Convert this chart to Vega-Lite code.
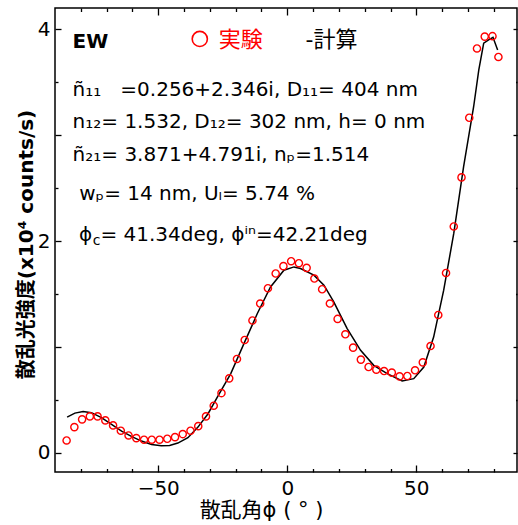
{
  "$schema": "https://vega.github.io/schema/vega-lite/v6.json",
  "width": 462,
  "height": 464,
  "autosize": {"type": "none"},
  "padding": {"left": 55, "top": 8, "right": 1, "bottom": 53},
  "background": "white",
  "config": {
    "view": {"stroke": "#000", "strokeWidth": 1.5},
    "axis": {
      "domain": false,
      "grid": false,
      "tickColor": "#000",
      "tickWidth": 1.3,
      "labelColor": "#000",
      "labelFont": "DejaVu Sans",
      "labelFontSize": 20,
      "titleFont": "DejaVu Sans, Noto Sans CJK JP",
      "titleFontSize": 21,
      "titleFontWeight": "normal",
      "titleColor": "#000"
    }
  },
  "datasets": {
    "obs": [
      {"x": -85.5, "y": 0.118}, {"x": -82.5, "y": 0.244}, {"x": -79.5, "y": 0.317}, {"x": -76.5, "y": 0.345},
      {"x": -73.5, "y": 0.345}, {"x": -70.5, "y": 0.307}, {"x": -67.5, "y": 0.26}, {"x": -64.5, "y": 0.21},
      {"x": -61.5, "y": 0.165}, {"x": -58.5, "y": 0.14}, {"x": -55.5, "y": 0.125}, {"x": -52.5, "y": 0.125},
      {"x": -49.5, "y": 0.125}, {"x": -46.5, "y": 0.134}, {"x": -43.5, "y": 0.149}, {"x": -40.5, "y": 0.178},
      {"x": -37.5, "y": 0.21}, {"x": -34.5, "y": 0.253}, {"x": -31.5, "y": 0.345}, {"x": -28.5, "y": 0.446},
      {"x": -25.5, "y": 0.565}, {"x": -22.5, "y": 0.704}, {"x": -19.5, "y": 0.887}, {"x": -16.5, "y": 1.066},
      {"x": -13.5, "y": 1.25}, {"x": -10.5, "y": 1.41}, {"x": -7.5, "y": 1.555}, {"x": -4.5, "y": 1.694},
      {"x": -1.5, "y": 1.763}, {"x": 1.5, "y": 1.81}, {"x": 4.5, "y": 1.791}, {"x": 7.5, "y": 1.747},
      {"x": 10.5, "y": 1.646}, {"x": 13.5, "y": 1.545}, {"x": 16.5, "y": 1.41}, {"x": 19.5, "y": 1.265},
      {"x": 22.5, "y": 1.12}, {"x": 25.5, "y": 0.994}, {"x": 28.5, "y": 0.881}, {"x": 31.5, "y": 0.811},
      {"x": 34.5, "y": 0.786}, {"x": 37.5, "y": 0.773}, {"x": 40.5, "y": 0.758}, {"x": 43.5, "y": 0.723},
      {"x": 46.5, "y": 0.726}, {"x": 49.5, "y": 0.78}, {"x": 52.5, "y": 0.855}, {"x": 55.5, "y": 1.009},
      {"x": 58.5, "y": 1.302}, {"x": 61.5, "y": 1.699}, {"x": 64.5, "y": 2.138}, {"x": 67.5, "y": 2.601},
      {"x": 70.5, "y": 3.164}, {"x": 73.5, "y": 3.818}, {"x": 76.5, "y": 3.93}, {"x": 79.5, "y": 3.934},
      {"x": 81.8, "y": 3.738}
    ],
    "calc": [
      {"x": -85.3, "y": 0.338}, {"x": -82.3, "y": 0.376}, {"x": -79.1, "y": 0.392}, {"x": -75.9, "y": 0.38},
      {"x": -72.0, "y": 0.333}, {"x": -68.1, "y": 0.269}, {"x": -64.2, "y": 0.206}, {"x": -60.4, "y": 0.156},
      {"x": -56.5, "y": 0.112}, {"x": -52.6, "y": 0.08}, {"x": -48.8, "y": 0.068}, {"x": -45.6, "y": 0.071},
      {"x": -42.4, "y": 0.093}, {"x": -38.5, "y": 0.144}, {"x": -34.6, "y": 0.244}, {"x": -30.7, "y": 0.37},
      {"x": -27.1, "y": 0.527}, {"x": -21.9, "y": 0.749}, {"x": -16.8, "y": 1.032}, {"x": -11.6, "y": 1.316},
      {"x": -6.5, "y": 1.567}, {"x": -1.3, "y": 1.725}, {"x": 2.6, "y": 1.756}, {"x": 5.1, "y": 1.741},
      {"x": 10.3, "y": 1.678}, {"x": 14.2, "y": 1.583}, {"x": 18.0, "y": 1.425}, {"x": 23.2, "y": 1.174},
      {"x": 28.4, "y": 0.969}, {"x": 33.5, "y": 0.827}, {"x": 38.7, "y": 0.749}, {"x": 44.5, "y": 0.679},
      {"x": 49.0, "y": 0.701}, {"x": 52.9, "y": 0.811}, {"x": 56.7, "y": 1.094}, {"x": 60.6, "y": 1.536},
      {"x": 64.5, "y": 2.072}, {"x": 68.3, "y": 2.701}, {"x": 72.2, "y": 3.268}, {"x": 74.2, "y": 3.615},
      {"x": 76.1, "y": 3.868}, {"x": 78.0, "y": 3.899}, {"x": 79.7, "y": 3.924}, {"x": 81.5, "y": 3.804}
    ],
    "notes": [
      {"x": -83.2, "y": 3.370, "t": "ñ₁₁\u00a0\u00a0 =0.256+2.346i, D₁₁= 404 nm", "s": 20, "c": "#000"},
      {"x": -83.2, "y": 3.064, "t": "n₁₂= 1.532, D₁₂= 302 nm, h= 0 nm", "s": 20, "c": "#000"},
      {"x": -83.2, "y": 2.755, "t": "ñ₂₁= 3.871+4.791i, nₚ=1.514", "s": 20, "c": "#000"},
      {"x": -80.6, "y": 2.387, "t": "wₚ= 14 nm, Uₗ= 5.74 %", "s": 20, "c": "#000"},
      {"x": -80.7, "y": 2.002, "t": "ϕ", "s": 20, "c": "#000"},
      {"x": -75.4, "y": 1.961, "t": "c", "s": 14, "c": "#000"},
      {"x": -72.4, "y": 2.002, "t": "= 41.34deg, ϕⁱⁿ=42.21deg", "s": 20, "c": "#000"},
      {"x": -26.6, "y": 3.833, "t": "実験", "s": 22, "c": "#ff0000"},
      {"x": 7.1, "y": 3.833, "t": "-計算", "s": 22, "c": "#000"}
    ],
    "bold": [
      {"x": -83.2, "y": 3.826, "t": "EW"}
    ],
    "legendpt": [
      {"x": -33.9, "y": 3.908}
    ]
  },
  "resolve": {"axis": {"x": "independent", "y": "independent"}},
  "layer": [
    {
      "data": {"name": "calc"},
      "mark": {"type": "line", "color": "#000", "strokeWidth": 1.5},
      "encoding": {
        "x": {
          "field": "x", "type": "quantitative",
          "scale": {"domain": [-90, 89], "nice": false, "zero": false},
          "axis": {
            "orient": "bottom",
            "values": [-80, -70, -60, -50, -40, -30, -20, -10, 0, 10, 20, 30, 40, 50, 60, 70, 80],
            "labelExpr": "datum.value % 50 === 0 ? datum.label : ''",
            "tickSize": {"condition": {"test": "datum.value % 50 === 0", "value": -7}, "value": -3.5},
            "labelPadding": 13,
            "title": "散乱角ϕ ( ° )",
            "titleX": 206,
            "titlePadding": 1
          }
        },
        "y": {
          "field": "y", "type": "quantitative",
          "scale": {"domain": [-0.18, 4.2], "nice": false, "zero": false},
          "axis": {
            "orient": "left",
            "values": [0, 0.5, 1, 1.5, 2, 2.5, 3, 3.5, 4],
            "labelExpr": "datum.value % 2 === 0 ? format(datum.value, 'd') : ''",
            "tickSize": {"condition": {"test": "datum.value % 1 === 0", "value": -6}, "value": -3},
            "labelPadding": 11,
            "title": "散乱光強度(x10⁴ counts/s)",
            "titleFontWeight": "bold",
            "titleFontSize": 20,
            "titleY": 236,
            "titlePadding": 1
          }
        }
      }
    },
    {
      "data": {"name": "obs"},
      "mark": {"type": "point", "shape": "circle", "filled": false, "color": "#ff0000", "strokeWidth": 1.4, "size": 52, "opacity": 1},
      "encoding": {
        "x": {
          "field": "x", "type": "quantitative",
          "scale": {"domain": [-90, 89], "nice": false, "zero": false},
          "axis": {
            "orient": "top",
            "values": [-80, -70, -60, -50, -40, -30, -20, -10, 0, 10, 20, 30, 40, 50, 60, 70, 80],
            "labels": false,
            "tickSize": {"condition": {"test": "datum.value % 50 === 0", "value": -7}, "value": -3.5},
            "title": null
          }
        },
        "y": {
          "field": "y", "type": "quantitative",
          "scale": {"domain": [-0.18, 4.2], "nice": false, "zero": false},
          "axis": {
            "orient": "right",
            "values": [0, 0.5, 1, 1.5, 2, 2.5, 3, 3.5, 4],
            "labels": false,
            "tickSize": {"condition": {"test": "datum.value % 1 === 0", "value": -4}, "value": -1.5},
            "title": null
          }
        }
      }
    },
    {
      "data": {"name": "notes"},
      "mark": {"type": "text", "align": "left", "baseline": "alphabetic", "font": "DejaVu Sans, Noto Sans CJK JP"},
      "encoding": {
        "x": {"field": "x", "type": "quantitative", "scale": {"domain": [-90, 89], "nice": false, "zero": false}, "axis": null},
        "y": {"field": "y", "type": "quantitative", "scale": {"domain": [-0.18, 4.2], "nice": false, "zero": false}, "axis": null},
        "text": {"field": "t"},
        "size": {"field": "s", "type": "quantitative", "scale": null},
        "color": {"field": "c", "type": "nominal", "scale": null}
      }
    },
    {
      "data": {"name": "bold"},
      "mark": {"type": "text", "align": "left", "baseline": "alphabetic", "font": "DejaVu Sans", "fontWeight": "bold", "fontSize": 20, "color": "#000"},
      "encoding": {
        "x": {"field": "x", "type": "quantitative", "scale": {"domain": [-90, 89], "nice": false, "zero": false}, "axis": null},
        "y": {"field": "y", "type": "quantitative", "scale": {"domain": [-0.18, 4.2], "nice": false, "zero": false}, "axis": null},
        "text": {"field": "t"}
      }
    },
    {
      "data": {"name": "legendpt"},
      "mark": {"type": "point", "shape": "circle", "filled": false, "color": "#ff0000", "strokeWidth": 1.6, "size": 230, "opacity": 1},
      "encoding": {
        "x": {"field": "x", "type": "quantitative", "scale": {"domain": [-90, 89], "nice": false, "zero": false}, "axis": null},
        "y": {"field": "y", "type": "quantitative", "scale": {"domain": [-0.18, 4.2], "nice": false, "zero": false}, "axis": null}
      }
    }
  ]
}
